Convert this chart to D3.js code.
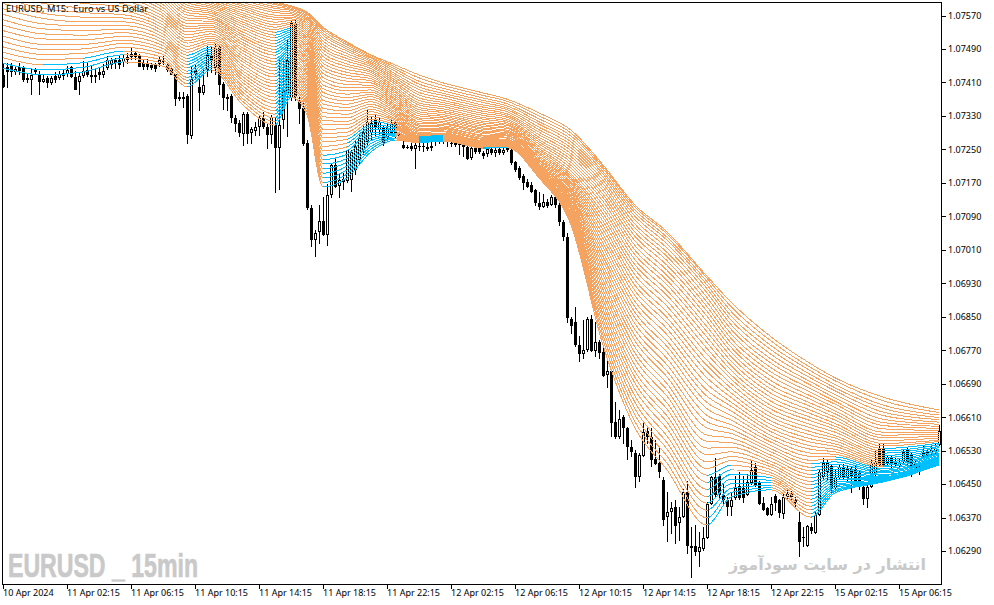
<!DOCTYPE html>
<html><head><meta charset="utf-8">
<style>
html,body{margin:0;padding:0;background:#fff}
svg{display:block}
text{font-family:"Noto Sans",sans-serif}
</style>
<script src="https://cdn.jsdelivr.net/npm/d3@7"></script>
</head><body><div id="chart"></div>
<script>
// price = 1.06 + points / 100000
const opens=[1428,1447,1452,1435,1447,1444,1421,1416,1440,1430,1411,1421,1409,1425,1421,1425,1430,1447,1423,1411,1425,1440,1428,1423,1435,1428,1444,1452,1464,1464,1459,1464,1471,1480,1476,1456,1456,1452,1452,1454,1459,1452,1442,1430,1375,1370,1378,1282,1440,1399,1385,1440,1476,1444,1495,1406,1375,1378,1325,1313,1287,1335,1289,1294,1303,1325,1303,1284,1308,1253,1320,1380,1373,1552,1368,1349,1265,1110,1033,1053,1079,1045,1141,1213,1162,1179,1174,1177,1201,1225,1248,1268,1289,1320,1296,1303,1277,1289,1313,1287,1260,1256,1258,1251,1256,1256,1256,1253,1280,1275,1282,1272,1263,1265,1263,1263,1256,1229,1256,1256,1241,1239,1251,1241,1251,1241,1260,1248,1220,1205,1186,1172,1165,1153,1122,1112,1124,1117,1136,1117,1076,1041,845,837,783,761,770,845,768,790,766,711,720,598,563,610,584,539,524,467,517,577,563,510,500,460,371,383,395,357,371,431,302,302,288,295,321,402,467,469,424,412,395,417,445,441,424,453,491,453,405,393,376,422,412,379,419,426,412,359,323,302,347,333,376,467,479,493,441,465,491,465,486,486,479,443,414,443,472,536,536,500,515,503,493,503,531,519,500,503,515,527,524,527,543];
const highs=[1452,1456,1456,1447,1456,1449,1430,1444,1444,1435,1428,1425,1425,1433,1437,1440,1449,1449,1435,1433,1459,1456,1447,1444,1444,1452,1471,1468,1468,1473,1476,1480,1492,1483,1476,1464,1464,1456,1456,1471,1471,1456,1444,1430,1385,1385,1382,1447,1452,1428,1440,1497,1495,1502,1499,1411,1382,1382,1332,1320,1337,1337,1303,1315,1332,1339,1313,1330,1327,1468,1459,1511,1559,1559,1373,1368,1272,1117,1057,1117,1134,1165,1215,1229,1191,1193,1248,1248,1268,1284,1308,1344,1327,1330,1325,1308,1315,1320,1320,1296,1277,1260,1265,1280,1280,1277,1272,1275,1284,1287,1287,1284,1277,1272,1265,1268,1260,1258,1260,1260,1246,1256,1258,1256,1258,1256,1265,1265,1222,1208,1189,1177,1170,1155,1146,1141,1131,1139,1141,1122,1081,1050,849,873,802,840,847,852,835,792,780,751,723,644,625,613,586,555,531,522,594,584,584,555,539,465,431,407,410,393,438,457,345,352,335,345,405,469,510,472,448,419,429,469,477,467,472,505,500,455,417,395,417,426,414,424,436,433,419,383,347,352,355,381,484,512,508,496,484,496,496,493,493,493,481,448,453,508,527,548,546,519,519,512,512,531,536,524,508,512,539,536,541,546,591];
const lows=[1399,1399,1425,1428,1428,1413,1409,1382,1428,1380,1409,1397,1404,1411,1416,1418,1423,1421,1392,1382,1421,1423,1411,1411,1416,1421,1440,1444,1444,1444,1449,1456,1464,1464,1447,1442,1442,1440,1435,1449,1452,1437,1428,1356,1368,1349,1265,1277,1416,1342,1382,1423,1433,1430,1382,1346,1344,1315,1292,1280,1260,1263,1265,1284,1282,1301,1253,1265,1148,1153,1301,1280,1368,1368,1313,1260,1107,1017,993,1026,1045,1021,1136,1158,1136,1153,1170,1150,1189,1213,1237,1260,1272,1284,1284,1260,1268,1284,1277,1272,1251,1251,1248,1205,1248,1244,1248,1248,1260,1265,1263,1258,1258,1258,1237,1234,1225,1225,1241,1241,1229,1234,1237,1232,1237,1237,1244,1215,1198,1179,1153,1158,1146,1115,1107,1110,1110,1115,1112,1069,1033,837,811,778,742,751,768,766,756,751,706,682,563,560,558,548,508,515,441,457,515,548,491,496,465,350,312,333,309,314,369,283,226,280,252,292,319,400,419,412,400,376,376,412,412,405,422,450,445,400,386,374,374,388,371,367,412,412,393,276,300,300,333,331,374,462,460,431,436,460,460,457,431,450,436,400,393,441,465,493,491,493,489,491,489,500,496,469,477,474,508,512,517,522,541];
const closes=[1399,1435,1435,1442,1437,1416,1416,1428,1435,1411,1418,1409,1421,1416,1430,1433,1440,1423,1392,1425,1437,1428,1423,1428,1428,1437,1464,1464,1456,1452,1468,1471,1478,1471,1447,1447,1447,1444,1442,1464,1464,1440,1428,1370,1370,1375,1284,1418,1430,1385,1404,1476,1464,1492,1404,1373,1370,1325,1311,1289,1335,1287,1299,1303,1325,1303,1284,1327,1253,1308,1392,1464,1552,1375,1346,1263,1110,1033,1050,1079,1045,1141,1213,1160,1177,1172,1248,1244,1258,1277,1292,1315,1313,1303,1315,1265,1301,1313,1284,1282,1253,1253,1251,1260,1258,1258,1251,1258,1272,1282,1275,1280,1265,1260,1260,1256,1227,1253,1244,1244,1234,1251,1241,1248,1241,1248,1248,1217,1201,1182,1170,1160,1148,1122,1112,1124,1115,1136,1117,1076,1041,847,828,783,761,770,845,768,790,763,708,720,596,563,606,584,539,527,467,520,575,563,508,498,479,364,383,393,350,371,431,302,297,288,300,321,402,467,424,424,412,395,412,441,417,417,455,484,448,402,388,376,402,405,381,419,426,419,405,312,321,350,338,376,479,500,500,441,467,491,465,486,469,455,443,414,443,500,503,496,496,515,496,496,503,527,500,488,484,496,524,520,531,536,577];

const ribbonBars=[0,10,20,30,40,46,52,60,68,72,76,80,86,92,98,104,110,120,126,134,142,150,158,166,176,182,192,202,208,220,234];
// one row per sampled bar, 44 moving-average values from slowest to fastest
const ribbonValues=[
[2001,1988,1975,1962,1949,1936,1923,1910,1897,1884,1871,1858,1846,1833,1820,1807,1794,1781,1768,1755,1742,1729,1716,1703,1690,1677,1664,1651,1638,1625,1612,1599,1586,1573,1560,1547,1534,1521,1508,1495,1482,1469,1456,1444],
[1954,1942,1930,1917,1905,1893,1881,1868,1856,1844,1832,1819,1807,1795,1783,1771,1758,1746,1734,1722,1709,1697,1685,1673,1660,1648,1636,1624,1611,1599,1587,1575,1563,1550,1538,1526,1514,1501,1489,1477,1465,1452,1440,1428],
[1906,1895,1884,1873,1862,1851,1840,1829,1818,1807,1796,1786,1775,1764,1753,1742,1731,1720,1709,1698,1687,1676,1665,1654,1643,1632,1621,1610,1599,1588,1577,1566,1555,1545,1534,1523,1512,1501,1490,1479,1468,1457,1446,1435],
[1834,1825,1817,1808,1799,1790,1782,1773,1764,1756,1747,1738,1729,1721,1712,1703,1694,1686,1677,1668,1660,1651,1642,1633,1625,1616,1607,1598,1590,1581,1572,1564,1555,1546,1537,1529,1520,1511,1503,1494,1485,1476,1468,1459],
[1750,1743,1736,1729,1722,1715,1708,1701,1694,1687,1680,1673,1666,1659,1652,1645,1638,1631,1624,1617,1610,1603,1596,1589,1582,1575,1568,1561,1554,1547,1540,1533,1526,1519,1512,1505,1498,1491,1484,1477,1470,1463,1456,1449],
[1667,1665,1661,1657,1653,1649,1644,1639,1634,1629,1624,1618,1613,1607,1601,1595,1589,1583,1577,1571,1564,1558,1551,1544,1538,1531,1524,1517,1510,1504,1496,1489,1482,1475,1467,1460,1453,1445,1437,1430,1422,1415,1407,1399],
[1636,1634,1632,1629,1626,1623,1619,1616,1612,1608,1604,1600,1596,1592,1588,1583,1579,1575,1570,1565,1561,1556,1551,1546,1542,1537,1532,1526,1521,1516,1511,1506,1501,1495,1490,1484,1479,1474,1468,1463,1457,1451,1446,1440],
[1619,1617,1613,1610,1606,1601,1596,1592,1587,1582,1576,1571,1566,1560,1554,1549,1543,1537,1530,1524,1518,1512,1505,1499,1492,1486,1479,1472,1465,1459,1451,1444,1437,1430,1423,1416,1409,1401,1394,1386,1379,1371,1364,1356],
[1602,1599,1596,1591,1587,1582,1577,1571,1566,1561,1554,1548,1542,1536,1530,1523,1517,1510,1503,1496,1489,1482,1475,1467,1460,1453,1445,1438,1430,1423,1414,1407,1399,1391,1383,1375,1367,1359,1350,1342,1334,1325,1317,1308],
[1593,1591,1588,1585,1582,1578,1574,1570,1566,1562,1558,1553,1549,1544,1539,1535,1530,1525,1520,1515,1509,1504,1499,1493,1488,1482,1477,1471,1465,1460,1454,1448,1442,1436,1430,1424,1419,1412,1406,1400,1394,1388,1381,1375],
[1578,1576,1573,1569,1565,1561,1557,1552,1548,1543,1538,1533,1528,1523,1517,1512,1507,1501,1495,1489,1484,1478,1471,1465,1459,1453,1447,1440,1434,1428,1421,1415,1408,1401,1394,1388,1381,1374,1367,1360,1353,1346,1339,1332],
[1542,1539,1534,1528,1523,1516,1509,1502,1495,1488,1480,1472,1464,1456,1448,1440,1431,1422,1413,1404,1395,1386,1377,1367,1358,1348,1338,1328,1319,1309,1298,1288,1278,1268,1257,1247,1236,1226,1215,1204,1193,1182,1171,1160],
[1507,1504,1500,1495,1490,1485,1479,1473,1467,1461,1454,1448,1441,1434,1427,1420,1413,1405,1397,1390,1382,1374,1366,1358,1350,1342,1334,1325,1317,1309,1300,1291,1282,1274,1265,1256,1247,1238,1228,1219,1210,1201,1191,1182],
[1476,1474,1471,1468,1464,1460,1456,1452,1448,1443,1438,1434,1429,1424,1419,1414,1409,1403,1398,1392,1387,1381,1376,1370,1364,1358,1352,1346,1340,1334,1328,1322,1316,1309,1303,1297,1290,1284,1277,1271,1264,1257,1251,1244],
[1452,1447,1442,1437,1431,1426,1421,1416,1411,1406,1400,1395,1390,1386,1381,1376,1371,1367,1362,1357,1353,1349,1345,1340,1336,1332,1328,1324,1320,1317,1313,1309,1306,1302,1299,1296,1292,1289,1286,1283,1280,1277,1275,1272],
[1428,1421,1413,1406,1399,1393,1386,1380,1373,1367,1361,1356,1350,1345,1340,1335,1330,1325,1321,1316,1312,1308,1305,1301,1298,1295,1291,1288,1286,1283,1281,1279,1277,1275,1273,1272,1270,1269,1268,1267,1267,1266,1266,1266],
[1409,1403,1396,1390,1384,1379,1373,1367,1362,1357,1352,1347,1342,1338,1333,1329,1325,1321,1317,1313,1310,1306,1303,1300,1297,1294,1292,1289,1287,1285,1283,1281,1279,1278,1276,1275,1274,1273,1272,1271,1271,1270,1270,1270],
[1385,1379,1373,1367,1362,1356,1351,1346,1341,1336,1331,1326,1322,1317,1313,1309,1305,1301,1298,1294,1291,1288,1284,1282,1279,1276,1274,1271,1269,1267,1265,1263,1262,1260,1259,1258,1257,1256,1255,1254,1254,1253,1253,1253],
[1370,1365,1359,1354,1349,1345,1340,1335,1331,1327,1322,1318,1314,1310,1307,1303,1300,1296,1293,1290,1287,1284,1282,1279,1277,1274,1272,1270,1268,1266,1265,1263,1262,1260,1259,1258,1257,1256,1256,1255,1255,1254,1254,1254],
[1337,1330,1323,1316,1310,1303,1297,1291,1285,1279,1273,1268,1263,1257,1252,1248,1243,1239,1234,1230,1226,1223,1219,1215,1212,1209,1206,1203,1201,1198,1196,1194,1192,1190,1189,1187,1186,1185,1184,1183,1183,1182,1182,1182],
[1296,1289,1282,1275,1268,1261,1254,1247,1240,1233,1226,1219,1212,1205,1198,1191,1186,1181,1177,1172,1168,1163,1158,1154,1149,1145,1140,1136,1131,1127,1122,1118,1113,1109,1105,1100,1096,1091,1087,1083,1079,1075,1072,1069],
[1213,1209,1204,1197,1191,1184,1176,1168,1160,1152,1143,1135,1126,1116,1107,1097,1088,1078,1068,1058,1047,1037,1026,1016,1005,994,983,972,961,950,938,927,915,904,891,880,868,856,844,832,819,807,795,782],
[1117,1112,1105,1098,1090,1081,1071,1062,1052,1042,1031,1020,1009,998,986,974,962,950,937,925,912,900,886,873,860,847,833,819,805,792,777,763,749,734,719,705,691,676,660,645,630,615,599,584],
[1053,1048,1040,1033,1024,1014,1004,994,984,973,961,949,937,926,913,901,888,875,861,848,835,821,807,792,779,765,750,735,720,706,690,675,660,644,629,613,598,582,565,549,534,517,500,484],
[947,942,934,926,917,907,896,885,874,863,851,839,826,814,801,788,774,761,746,733,719,704,689,674,660,645,630,614,599,584,567,552,536,520,503,487,471,454,437,420,404,387,369,352],
[885,874,863,852,842,831,820,809,798,787,777,766,755,744,733,722,711,701,690,679,668,657,646,636,625,614,603,592,581,571,560,549,538,527,516,506,495,484,473,462,451,440,430,419],
[802,792,781,771,760,749,739,728,718,708,697,687,677,667,657,648,638,629,619,610,601,592,583,575,566,558,550,542,534,527,519,512,504,497,491,484,477,471,465,459,453,447,441,436],
[737,728,720,711,703,694,686,677,669,660,652,643,635,626,618,609,601,592,584,575,567,558,550,541,533,524,516,507,499,490,482,473,465,456,448,439,431,422,414,405,397,388,380,371],
[704,697,688,680,673,664,656,648,641,633,625,618,610,603,595,588,581,574,566,560,553,546,540,533,527,521,515,509,503,497,491,486,480,475,470,465,460,455,450,446,442,437,433,429],
[658,649,639,631,622,614,605,597,590,582,574,567,561,554,547,541,535,529,524,518,513,508,503,499,495,491,487,483,480,477,473,471,468,466,464,462,460,459,458,457,456,455,455,455],
[627,621,615,609,604,598,593,588,583,578,573,569,564,560,555,552,548,544,540,537,533,530,527,524,522,519,516,514,512,510,508,506,505,503,502,501,500,499,498,497,497,496,496,496]
];
// first ribbon line shown blue between each pair of sampled bars (44 = none)
const blueFromLine=[42,41,40,44,44,33,44,44,14,44,44,36,33,32,44,30,44,40,44,44,44,44,44,44,36,38,44,28,26,16];
const priceTicks=[1.0757,1.0749,1.0741,1.0733,1.0725,1.0717,1.0709,1.0701,1.0693,1.0685,1.0677,1.0669,1.0661,1.0653,1.0645,1.0637,1.0629];
const timeTickBars=[0,16,32,48,64,80,96,112,128,144,160,176,192,208,224];
const timeTickLabels=["10 Apr 2024","11 Apr 02:15","11 Apr 06:15","11 Apr 10:15","11 Apr 14:15","11 Apr 18:15","11 Apr 22:15","12 Apr 02:15","12 Apr 06:15","12 Apr 10:15","12 Apr 14:15","12 Apr 18:15","12 Apr 22:15","15 Apr 02:15","15 Apr 06:15"];

const W=994,H=605,fallColor="#F4A460",riseColor="#00BFFF",labelFont="'Noto Sans',sans-serif";
const price=p=>1.06+p/1e5;
const x=d3.scaleLinear().domain([0,234]).range([3,939]);
const y=d3.scaleLinear().domain([1.0757,1.0629]).range([15.5,551]);
const svg=d3.select("#chart").append("svg").attr("width",W).attr("height",H).attr("viewBox",`0 0 ${W} ${H}`);
const defs=svg.append("defs");
defs.append("clipPath").attr("id","plot").append("rect").attr("x",3).attr("y",3).attr("width",939).attr("height",581);

const plot=svg.append("g").attr("clip-path","url(#plot)");

// watermark text under the chart
svg.append("text").attr("x",8).attr("y",577).attr("textLength",190).attr("lengthAdjust","spacingAndGlyphs")
  .attr("font-size",34).attr("font-weight","bold").attr("fill","#c9c9c9").attr("stroke","#c9c9c9").attr("stroke-width",.7)
  .style("font-family","'Liberation Sans',sans-serif").text("EURUSD _ 15min");
svg.append("text").attr("x",926).attr("y",570).attr("text-anchor","start").attr("direction","rtl")
  .attr("font-size",16).attr("font-weight","bold").attr("fill","#c9c9c9")
  .style("font-family","'DejaVu Sans',sans-serif")
  .text("انتشار در سایت سودآموز");

// candles
const candles=d3.range(opens.length);
const cg=plot.append("g").attr("shape-rendering","crispEdges");
cg.selectAll("line.w").data(candles).join("line").attr("class","w")
  .attr("x1",i=>x(i)+.5).attr("x2",i=>x(i)+.5)
  .attr("y1",i=>Math.floor(y(price(highs[i])))).attr("y2",i=>Math.ceil(y(price(lows[i]))))
  .attr("stroke","#000");
cg.selectAll("rect.b").data(candles).join("rect").attr("class","b")
  .attr("x",i=>x(i)-1)
  .attr("y",i=>Math.round(y(price(Math.max(opens[i],closes[i])))))
  .attr("width",3)
  .attr("height",i=>Math.max(1,Math.round(y(price(Math.min(opens[i],closes[i])))-y(price(Math.max(opens[i],closes[i]))))))
  .attr("fill","#000");
cg.selectAll("rect.u").data(candles.filter(i=>closes[i]>opens[i])).join("rect").attr("class","u")
  .attr("x",i=>x(i))
  .attr("y",i=>Math.round(y(price(closes[i])))+1)
  .attr("width",1)
  .attr("height",i=>Math.max(0,Math.round(y(price(opens[i]))-y(price(closes[i])))-2))
  .attr("fill","#fff");

// ribbon: each line is coloured segment by segment
const lineCount=ribbonValues[0].length;
const line=d3.line().x(d=>x(d[0])).y(d=>y(price(d[1]))).curve(d3.curveMonotoneX);
const rg=plot.append("g").attr("shape-rendering","crispEdges").attr("fill","none");
d3.range(lineCount).forEach(k=>{
  const pts=ribbonBars.map((b,j)=>[b,ribbonValues[j][k]]);
  const grad=defs.append("linearGradient").attr("id","g"+k).attr("gradientUnits","userSpaceOnUse")
    .attr("x1",x(0)).attr("x2",x(234)).attr("y1",0).attr("y2",0);
  for(let j=0;j<pts.length-1;j++){
    const c=k>=blueFromLine[j]?riseColor:fallColor;
    grad.append("stop").attr("offset",pts[j][0]/234).attr("stop-color",c);
    grad.append("stop").attr("offset",pts[j+1][0]/234).attr("stop-color",c);
  }
  rg.append("path").attr("d",line(pts)).attr("stroke",`url(#g${k})`).attr("stroke-width",1);
});

// frame
svg.append("rect").attr("x",2.5).attr("y",2.5).attr("width",939).attr("height",581.5)
  .attr("fill","none").attr("stroke","#000").attr("shape-rendering","crispEdges");

// axes
const yAxis=d3.axisRight(y).tickValues(priceTicks).tickFormat(d3.format(".5f")).tickSize(4).tickPadding(2);
const yg=svg.append("g").attr("transform","translate(942,0)").call(yAxis);
const xt=d3.scaleLinear().domain([0,234]).range([2.5,938.5]);
const xAxis=d3.axisBottom(xt).tickValues(timeTickBars).tickFormat((d,i)=>timeTickLabels[i]).tickSize(5).tickPadding(1);
const xg=svg.append("g").attr("transform","translate(0,584)").call(xAxis);
xg.selectAll("text").attr("text-anchor","start").attr("dx",0);
[yg,xg].forEach(g=>{
  g.select(".domain").remove();
  g.selectAll("line").attr("stroke","#000").attr("shape-rendering","crispEdges");
  g.selectAll("text").attr("fill","#000").attr("font-size",9).style("font-family",labelFont);
});

svg.append("text").attr("x",6).attr("y",12).attr("font-size",9.3).attr("fill","#000").attr("xml:space","preserve").style("font-family",labelFont).text("EURUSD, M15:  Euro vs US Dollar");
</script></body></html>
